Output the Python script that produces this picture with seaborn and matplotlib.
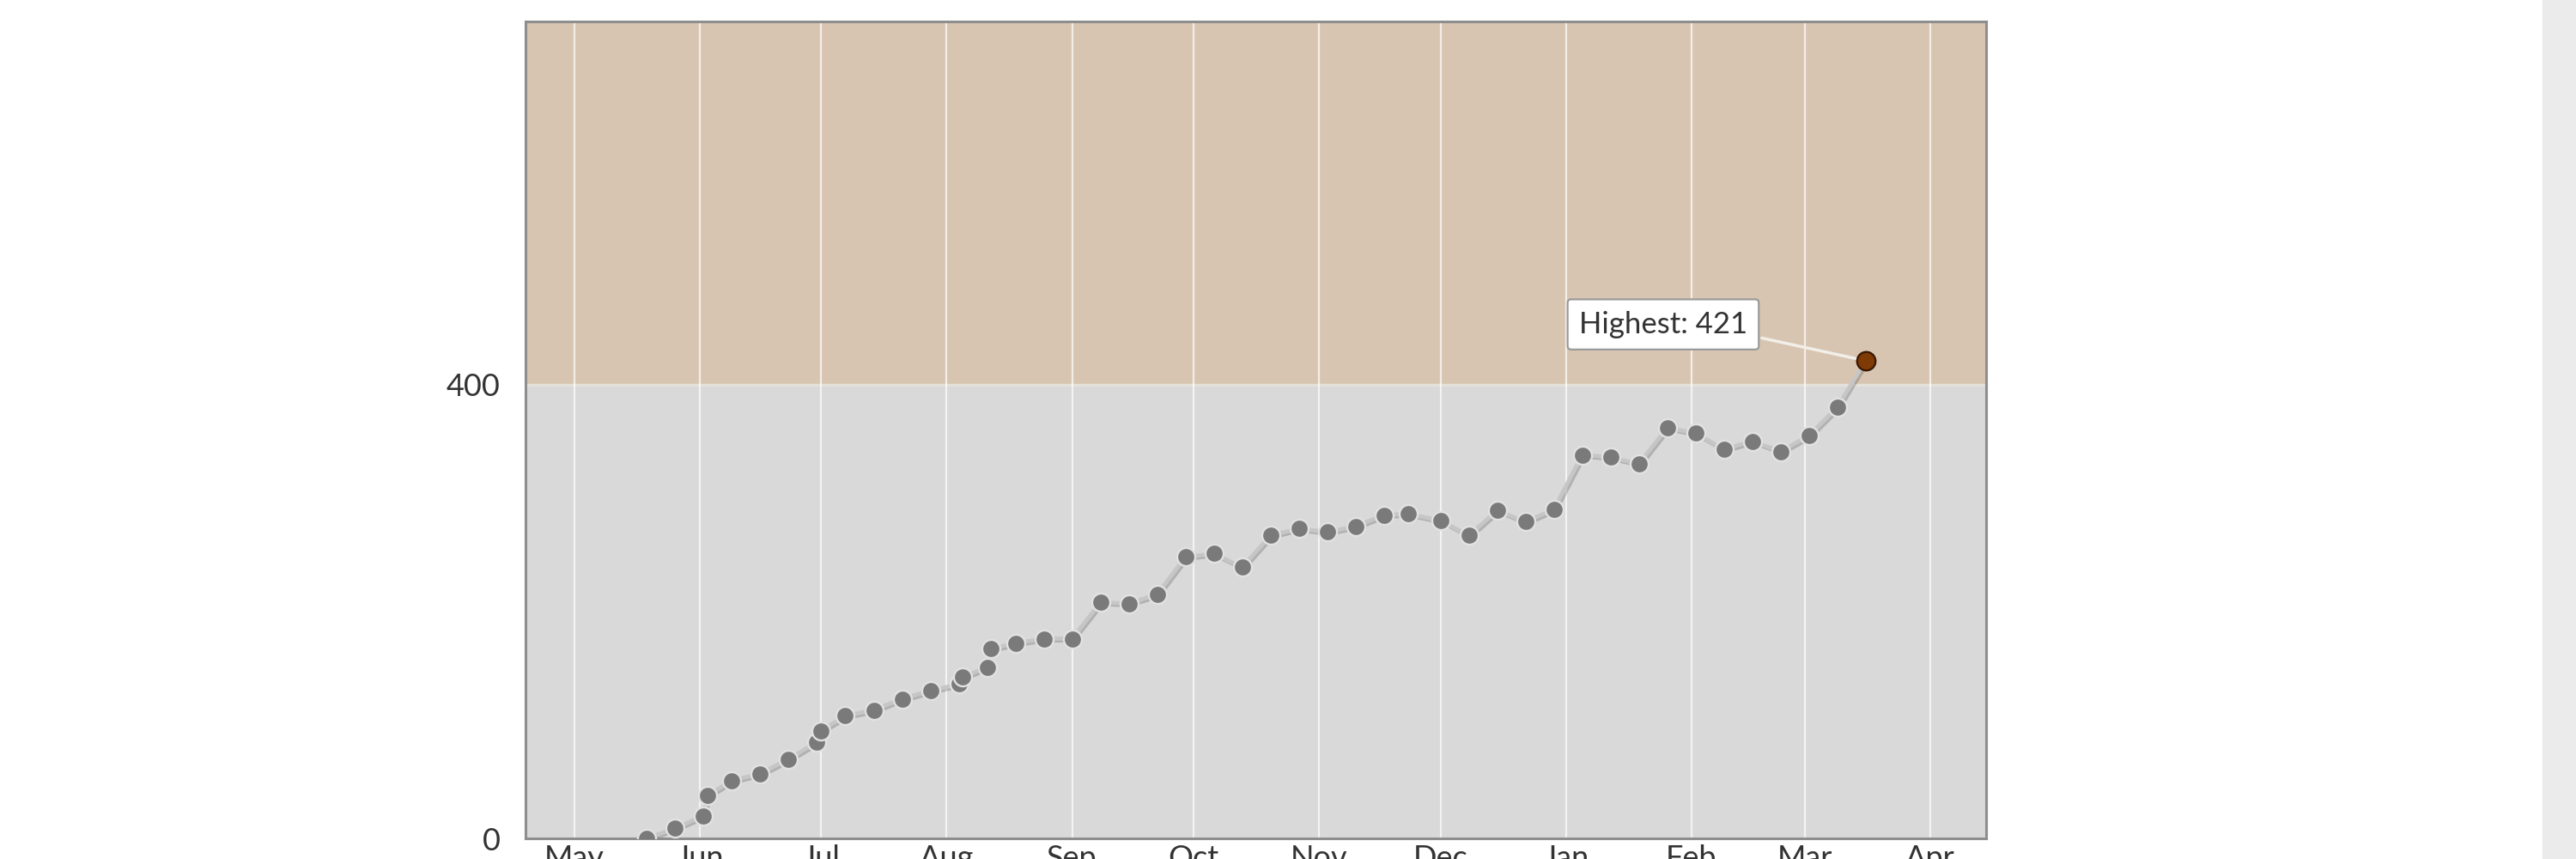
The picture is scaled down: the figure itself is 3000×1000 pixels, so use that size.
import matplotlib.dates as mdates
import matplotlib.patheffects as pe
import matplotlib.pyplot as plt
import pandas as pd
import seaborn as sns
from matplotlib.patches import Rectangle


# weekly readings
DATES = [
    "2012-05-19", "2012-05-26", "2012-06-02", "2012-06-03", "2012-06-09", "2012-06-16",
    "2012-06-23", "2012-06-30", "2012-07-01", "2012-07-07", "2012-07-14", "2012-07-21",
    "2012-07-28", "2012-08-04", "2012-08-05", "2012-08-11", "2012-08-12", "2012-08-18",
    "2012-08-25", "2012-09-01", "2012-09-08", "2012-09-15", "2012-09-22", "2012-09-29",
    "2012-10-06", "2012-10-13", "2012-10-20", "2012-10-27", "2012-11-03", "2012-11-10",
    "2012-11-17", "2012-11-23", "2012-12-01", "2012-12-08", "2012-12-15", "2012-12-22",
    "2012-12-29", "2013-01-05", "2013-01-12", "2013-01-19", "2013-01-26", "2013-02-02",
    "2013-02-09", "2013-02-16", "2013-02-23", "2013-03-02", "2013-03-09", "2013-03-16",
]
VALUES = [
    0, 9, 20, 38, 51, 57,
    70, 85, 95, 108, 113, 123,
    130, 136, 142, 151, 167, 172,
    176, 176, 208, 207, 215, 248,
    251, 239, 267, 273, 270, 275,
    285, 286, 280, 267, 289, 279,
    290, 338, 336, 330, 362, 357,
    343, 350, 341, 355, 380, 421,
]
Y_TICKS = [0, 400]
BAND_FROM = 400
Y_MAX = 720
X_START = "2012-04-19"
X_END = "2013-04-14 18:00"
LABEL_AT = ("2013-01-25", 453)

BAND_COLOR = "#d8c5b1"
PLOT_BG = "#d9d9d9"
LINE_COLOR = "#c6c6c6"
MARKER_COLOR = "#7a7a7a"
HIGH_COLOR = "#7f3a05"
TEXT_COLOR = "#333333"


def main() -> None:
    sns.set_style("white")
    plt.rcParams["font.family"] = ["Lato", "DejaVu Sans"]

    df = pd.DataFrame({"date": pd.to_datetime(DATES), "value": VALUES})
    top = df.loc[df["value"].idxmax()]

    fig = plt.figure(figsize=(30, 10), dpi=100)
    ax = fig.add_axes([0.204, 0.024, 0.567, 0.951])
    ax.set_facecolor(PLOT_BG)

    ax.axhspan(BAND_FROM, Y_MAX, color=BAND_COLOR, zorder=0)
    ax.axhline(BAND_FROM, color="#e4e1db", linewidth=2.5, zorder=0.5)

    ax.xaxis.set_major_locator(mdates.MonthLocator())
    ax.xaxis.set_major_formatter(mdates.DateFormatter("%b"))
    ax.grid(axis="x", color="white", alpha=0.7, linewidth=1.6, zorder=0.6)
    ax.set_axisbelow(True)

    sns.lineplot(
        data=df, x="date", y="value", ax=ax, color=LINE_COLOR, linewidth=3.4, zorder=2,
        path_effects=[pe.SimpleLineShadow(offset=(1.5, -1.5), shadow_color="black", alpha=0.18), pe.Normal()],
    )
    sns.scatterplot(
        data=df.drop(index=top.name), x="date", y="value", ax=ax, color=MARKER_COLOR, s=230,
        edgecolor="#e2e2e2", linewidth=1.7, zorder=3,
    )
    sns.scatterplot(
        x=[top["date"]], y=[top["value"]], ax=ax, color=HIGH_COLOR, s=240,
        edgecolor="#3b1a02", linewidth=1.7, zorder=4,
    )

    ax.annotate(
        f"Highest: {top['value']}",
        xy=(top["date"], top["value"]),
        xytext=(pd.Timestamp(LABEL_AT[0]), LABEL_AT[1]),
        ha="center", va="center", fontsize=25, color=TEXT_COLOR, zorder=5,
        bbox=dict(boxstyle="round,pad=0.38,rounding_size=0.12", fc="white", ec="#9a9a9a", lw=1.6),
        arrowprops=dict(arrowstyle="-", color="#f2eee9", lw=2.5, relpos=(1.0, 0.12), shrinkB=9),
    )

    ax.set_xlim(pd.Timestamp(X_START), pd.Timestamp(X_END))
    ax.set_ylim(0, Y_MAX)
    ax.set_yticks(Y_TICKS)
    ax.set_xlabel("")
    ax.set_ylabel("")
    ax.tick_params(axis="y", length=0, pad=21, labelsize=26, labelcolor=TEXT_COLOR)
    ax.tick_params(axis="x", length=0, pad=5, labelsize=26, labelcolor=TEXT_COLOR)

    for spine in ax.spines.values():
        spine.set_color("#8e8e8e")
        spine.set_linewidth(2.2)

    # grey strip on the right edge of the page
    fig.add_artist(Rectangle((2961 / 3000, 0), 39 / 3000, 1, transform=fig.transFigure,
                             color="#ebebeb", zorder=0))

    fig.savefig("out.png", dpi=100)
    plt.close(fig)


if __name__ == "__main__":
    main()
